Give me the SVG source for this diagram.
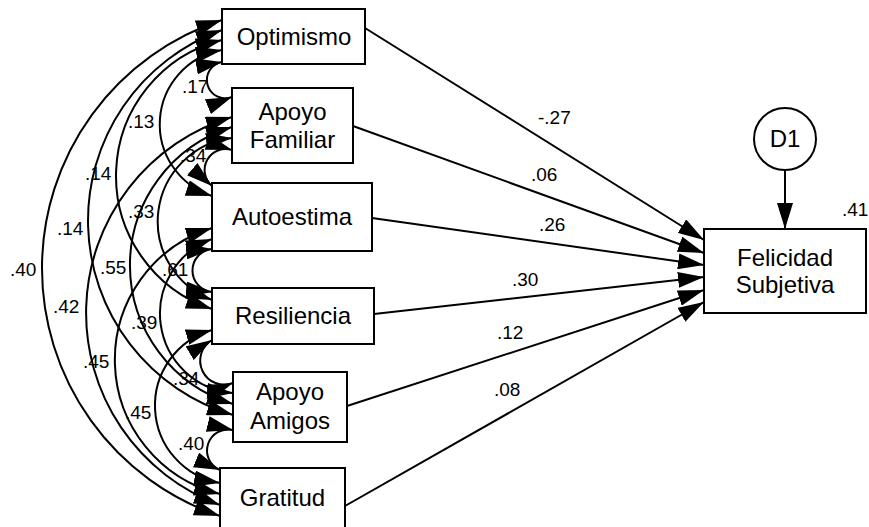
<svg xmlns="http://www.w3.org/2000/svg" width="869" height="527" viewBox="0 0 869 527">
  <defs>
    <marker id="head" viewBox="0 0 26 16" refX="26" refY="8" markerWidth="26" markerHeight="16" markerUnits="userSpaceOnUse" orient="auto-start-reverse">
      <path d="M0,0 L26,8 L0,16 Z" fill="#000"/>
    </marker>
  </defs>
  <style>
    .box { fill: #fff; stroke: #000; stroke-width: 2; }
    .name { font-family: "Liberation Sans", Arial, sans-serif; font-size: 24px; fill: #000; text-anchor: middle; }
    .coef { font-family: "Liberation Sans", Arial, sans-serif; font-size: 19px; fill: #000; }
    .path { fill: none; stroke: #000; stroke-width: 2; marker-end: url(#head); }
    .cov { fill: none; stroke: #000; stroke-width: 2; marker-start: url(#head); marker-end: url(#head); }
  </style>
  <rect width="869" height="527" fill="#fff"/>

  <!-- connectors: covariances (left) and regression paths (right) -->
  <g id="connectors">
    <!-- adjacent covariances -->
    <path class="cov" d="M222,62 A18.3,18.3 0 1 0 232,97"/>
    <path class="cov" d="M232,150 A21,21 0 0 0 212,186"/>
    <path class="cov" d="M212,249 A21.6,21.6 0 0 0 212,292"/>
    <path class="cov" d="M212,340 A24,24 0 0 0 233,383"/>
    <path class="cov" d="M233,430 A21.1,21.1 0 0 0 220,470"/>
    <!-- two apart -->
    <path class="cov" d="M222,50 A75.4,75.4 0 0 0 212,196"/>
    <path class="cov" d="M232,138 A84,84 0 0 0 212,300"/>
    <path class="cov" d="M212,239 A79.6,79.6 0 0 0 233,393"/>
    <path class="cov" d="M212,330 A78.6,78.6 0 0 0 220,483"/>
    <!-- three apart -->
    <path class="cov" d="M222,40 A140.2,140.2 0 0 0 212,309"/>
    <path class="cov" d="M232,127 A144.8,144.8 0 0 0 233,404"/>
    <path class="cov" d="M212,228 A138.1,138.1 0 0 0 220,494"/>
    <!-- four apart -->
    <path class="cov" d="M222,30 A202.7,202.7 0 0 0 233,415"/>
    <path class="cov" d="M232,117 A204.6,204.6 0 0 0 220,505"/>
    <!-- five apart -->
    <path class="cov" d="M222,20 A261.3,261.3 0 0 0 220,516"/>

    <!-- regression paths -->
    <path class="path" d="M365,28 L704,240"/>
    <path class="path" d="M353,126 L704,253"/>
    <path class="path" d="M372,218 L704,265"/>
    <path class="path" d="M374,314 L704,277"/>
    <path class="path" d="M347,406 L704,290"/>
    <path class="path" d="M345,506 L704,302"/>
    <!-- disturbance -->
    <path class="path" d="M785,170 L785,229"/>

    <!-- coefficient labels -->
    <text class="coef" x="182" y="93">.17</text>
    <text class="coef" x="128" y="128">.13</text>
    <text class="coef" x="180" y="162">.34</text>
    <text class="coef" x="85" y="180">.14</text>
    <text class="coef" x="128" y="218">.33</text>
    <text class="coef" x="57" y="235">.14</text>
    <text class="coef" x="10" y="276">.40</text>
    <text class="coef" x="100" y="274">.55</text>
    <text class="coef" x="162" y="276">.61</text>
    <text class="coef" x="53" y="313">.42</text>
    <text class="coef" x="131" y="329">.39</text>
    <text class="coef" x="83" y="368">.45</text>
    <text class="coef" x="173" y="385">.34</text>
    <text class="coef" x="125" y="419">.45</text>
    <text class="coef" x="178" y="450">.40</text>

    <text class="coef" x="538" y="124">-.27</text>
    <text class="coef" x="531" y="181">.06</text>
    <text class="coef" x="539" y="231">.26</text>
    <text class="coef" x="512" y="286">.30</text>
    <text class="coef" x="497" y="339">.12</text>
    <text class="coef" x="494" y="396">.08</text>
    <text class="coef" x="842" y="216">.41</text>
  </g>

  <g id="optimismo">
    <rect class="box" x="222" y="9" width="143" height="55"/>
    <text class="name" x="294" y="45">Optimismo</text>
  </g>
  <g id="apoyo-familiar">
    <rect class="box" x="232" y="88" width="121" height="75"/>
    <text class="name" x="292.5" y="120">Apoyo</text>
    <text class="name" x="292.5" y="148">Familiar</text>
  </g>
  <g id="autoestima">
    <rect class="box" x="212" y="183" width="160" height="68"/>
    <text class="name" x="292" y="225">Autoestima</text>
  </g>
  <g id="resiliencia">
    <rect class="box" x="212" y="288" width="162" height="56"/>
    <text class="name" x="293" y="324">Resiliencia</text>
  </g>
  <g id="apoyo-amigos">
    <rect class="box" x="233" y="372" width="114" height="70"/>
    <text class="name" x="290" y="400">Apoyo</text>
    <text class="name" x="290" y="429">Amigos</text>
  </g>
  <g id="gratitud">
    <rect class="box" x="220" y="468" width="125" height="72"/>
    <text class="name" x="282.5" y="506">Gratitud</text>
  </g>
  <g id="felicidad-subjetiva">
    <rect class="box" x="704" y="229" width="162" height="84"/>
    <text class="name" x="785" y="266">Felicidad</text>
    <text class="name" x="785" y="293">Subjetiva</text>
  </g>
  <g id="d1">
    <circle class="box" cx="785" cy="139" r="31"/>
    <text class="name" x="785" y="147">D1</text>
  </g>
</svg>
